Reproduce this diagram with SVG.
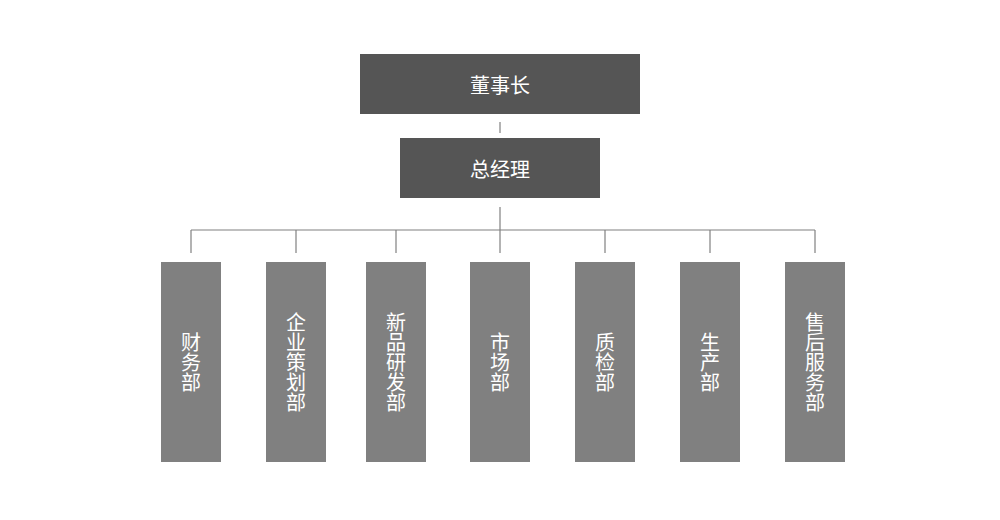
<svg xmlns="http://www.w3.org/2000/svg" width="1000" height="520" viewBox="0 0 1000 520">
<style>
.top{fill:#555555}
.dept{fill:#808080}
.t{fill:#ffffff;font-family:"Noto Sans CJK SC","Noto Sans",sans-serif;font-size:20px;text-anchor:middle;dominant-baseline:central}
.v{fill:#ffffff;font-family:"Noto Sans CJK SC","Noto Sans",sans-serif;font-size:20px;text-anchor:middle;writing-mode:vertical-rl}
.c{stroke:#808080;stroke-width:1.2;fill:none}
</style>
<rect width="1000" height="520" fill="#ffffff"/>
<g id="connectors">
<line class="c" x1="500" y1="122" x2="500" y2="133"/>
<line class="c" x1="500" y1="207" x2="500" y2="253"/>
<line class="c" x1="191" y1="230" x2="815" y2="230"/>
<line class="c" x1="191" y1="230" x2="191" y2="253"/>
<line class="c" x1="296" y1="230" x2="296" y2="253"/>
<line class="c" x1="396" y1="230" x2="396" y2="253"/>
<line class="c" x1="605" y1="230" x2="605" y2="253"/>
<line class="c" x1="710" y1="230" x2="710" y2="253"/>
<line class="c" x1="815" y1="230" x2="815" y2="253"/>
</g>
<g id="chairman"><rect class="top" x="360" y="54" width="280" height="60"/><text class="t" x="500" y="84">董事长</text></g>
<g id="gm"><rect class="top" x="400" y="138" width="200" height="60"/><text class="t" x="500" y="168">总经理</text></g>
<g id="finance"><rect class="dept" x="161" y="262" width="60" height="200"/><text class="v" x="191" y="362">财务部</text></g>
<g id="planning"><rect class="dept" x="266" y="262" width="60" height="200"/><text class="v" x="296" y="362">企业策划部</text></g>
<g id="rnd"><rect class="dept" x="366" y="262" width="60" height="200"/><text class="v" x="396" y="362">新品研发部</text></g>
<g id="market"><rect class="dept" x="470" y="262" width="60" height="200"/><text class="v" x="500" y="362">市场部</text></g>
<g id="quality"><rect class="dept" x="575" y="262" width="60" height="200"/><text class="v" x="605" y="362">质检部</text></g>
<g id="production"><rect class="dept" x="680" y="262" width="60" height="200"/><text class="v" x="710" y="362">生产部</text></g>
<g id="service"><rect class="dept" x="785" y="262" width="60" height="200"/><text class="v" x="815" y="362">售后服务部</text></g>
</svg>
